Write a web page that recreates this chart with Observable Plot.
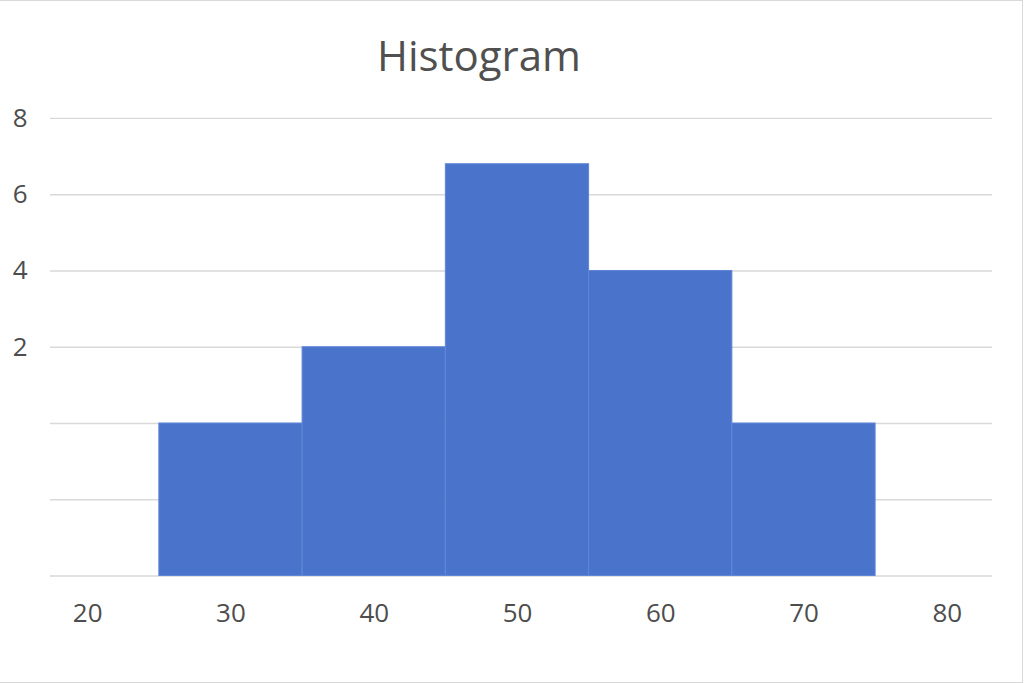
<!DOCTYPE html>
<html>
<head>
<meta charset="utf-8">
<script src="https://cdn.jsdelivr.net/npm/d3@7"></script>
<script src="https://cdn.jsdelivr.net/npm/@observablehq/plot@0.6"></script>
<style>
  html, body { margin: 0; padding: 0; background: #fff; }
  #wrap {
    position: relative; width: 1022px; height: 681px;
    border-top: 1px solid #d9d9d9; border-right: 1px solid #d9d9d9; border-bottom: 1px solid #d9d9d9;
    overflow: hidden; font-family: "Open Sans", "Noto Sans", sans-serif;
  }
  #title {
    height: 89px; width: 958px; text-align: center;
    font-size: 42px; color: #505050; line-height: 108px;
  }
  svg { display: block; }
</style>
</head>
<body>
<div id="wrap">
  <div id="title">Histogram</div>
  <div id="chart"></div>
</div>
<script>
// Bin edges and values
const binStart = [25, 35, 45, 55, 65];
const binEnd   = [35, 45, 55, 65, 75];
const counts   = [0, 2, 6.8, 4, 0];
const yFloor = -4;                       // bottom of the value axis
const gridTicks = [-4, -2, 0, 2, 4, 6, 8];
const yLabelTicks = [2, 4, 6, 8];
const xTicks = [20, 30, 40, 50, 60, 70, 80];

const bins = binStart.map((s, i) => ({x1: s, x2: binEnd[i], y: counts[i]}));

const chart = Plot.plot({
  width: 1023,
  height: 592,
  marginTop: 28,
  marginBottom: 106,
  marginLeft: 50,
  marginRight: 30,
  style: {fontFamily: "'Open Sans', 'Noto Sans', sans-serif", fontSize: "26px", color: "#4d4d4d", background: "#fff"},
  x: {domain: [17.4, 83.16]},
  y: {domain: [yFloor, 8]},
  marks: [
    Plot.gridY(gridTicks, {stroke: "#d9d9d9", strokeOpacity: 1, strokeWidth: 1.3}),
    Plot.rectY(bins, {x1: "x1", x2: "x2", y1: yFloor, y2: "y", fill: "#4a74cc", stroke: "#6186d6", strokeWidth: 1}),
    Plot.axisY(yLabelTicks, {tickSize: 0, tickPadding: 23, label: null, fill: "#4d4d4d"}),
    Plot.axisX(xTicks, {tickSize: 0, tickPadding: 28, label: null, fill: "#4d4d4d"})
  ]
});
document.getElementById("chart").appendChild(chart);
</script>
</body>
</html>
